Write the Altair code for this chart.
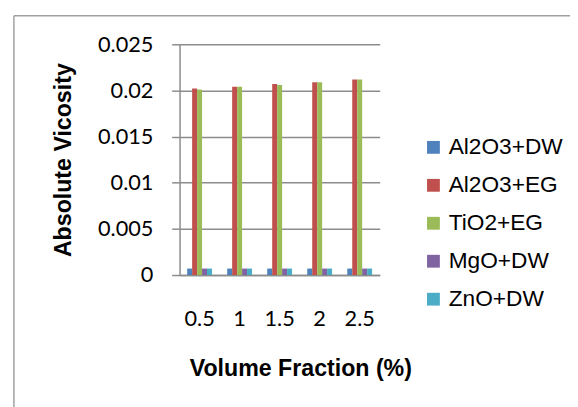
import altair as alt
import pandas as pd

categories = ["0.5", "1", "1.5", "2", "2.5"]
series_names = ["Al2O3+DW", "Al2O3+EG", "TiO2+EG", "MgO+DW", "ZnO+DW"]
colors = ["#4F81BD", "#C0504D", "#9BBB59", "#8064A2", "#4BACC6"]

al2o3_dw = [0.0007, 0.0007, 0.0007, 0.0007, 0.0007]
al2o3_eg = [0.0202, 0.0204, 0.0207, 0.0209, 0.0212]
tio2_eg = [0.0201, 0.0204, 0.0206, 0.0209, 0.0212]
mgo_dw = [0.0007, 0.0007, 0.0007, 0.0007, 0.0007]
zno_dw = [0.0007, 0.0007, 0.0007, 0.0007, 0.0007]

y_ticks = [0, 0.005, 0.01, 0.015, 0.02, 0.025]

values = [al2o3_dw, al2o3_eg, tio2_eg, mgo_dw, zno_dw]
rows = []
for name, vals in zip(series_names, values):
    for c, v in zip(categories, vals):
        rows.append({"fraction": c, "series": name, "value": v})
df = pd.DataFrame(rows)

GRAY = "#8c8c8c"

bars = alt.Chart(df).mark_bar().encode(
    x=alt.X(
        "fraction:N",
        sort=categories,
        scale=alt.Scale(paddingInner=0.38, paddingOuter=0.19),
        axis=alt.Axis(
            title="Volume Fraction (%)",
            labelAngle=0,
            ticks=False,
            tickSize=0,
            labelPadding=51,
            labelBaseline="alphabetic",
            labelFont="Lato",
            labelFontSize=22,
            labelColor="#000000",
            domainColor=GRAY,
            domainWidth=1.5,
            titleFont="Liberation Sans",
            titleFontSize=23.5,
            titleFontWeight="bold",
            titleColor="#000000",
            titleX=122.5,
            titleY=101.7,
            titleAlign="center",
            titleBaseline="alphabetic",
        ),
    ),
    xOffset=alt.XOffset("series:N", sort=series_names),
    y=alt.Y(
        "value:Q",
        scale=alt.Scale(domain=[0, 0.025], nice=False),
        axis=alt.Axis(
            title="Absolute Vicosity",
            values=y_ticks,
            format="~g",
            tickSize=8,
            tickColor=GRAY,
            tickWidth=1.5,
            labelPadding=19,
            labelFont="Lato",
            labelFontSize=22,
            labelColor="#000000",
            domainColor=GRAY,
            domainWidth=1.5,
            grid=True,
            gridColor=GRAY,
            gridWidth=1.5,
            titleFont="Liberation Sans",
            titleFontSize=23.5,
            titleFontWeight="bold",
            titleColor="#000000",
            titleAngle=270,
            titleX=-110.5,
            titleY=117,
            titleAlign="center",
            titleBaseline="alphabetic",
        ),
    ),
    color=alt.Color(
        "series:N",
        sort=series_names,
        scale=alt.Scale(domain=series_names, range=colors),
        legend=alt.Legend(
            title=None,
            orient="none",
            legendX=246,
            legendY=93,
            padding=0,
            symbolType="square",
            symbolSize=169,
            symbolStrokeWidth=0,
            symbolOpacity=1,
            labelFont="Liberation Sans",
            labelFontSize=23,
            labelColor="#000000",
            labelOffset=4,
            rowPadding=14.5,
        ),
    ),
)

frame_df = pd.DataFrame({"k": [0]})
frame_top = alt.Chart(frame_df).mark_rule(color="#a0a0a0", strokeWidth=1.5).encode(
    x=alt.value(-168), x2=alt.value(400), y=alt.value(-29)
)
frame_left = alt.Chart(frame_df).mark_rule(color="#a0a0a0", strokeWidth=1.5).encode(
    x=alt.value(-168), y=alt.value(-29), y2=alt.value(370)
)

chart = alt.layer(frame_top, frame_left, bars).properties(
    width=203,
    height=234,
    autosize=alt.AutoSizeParams(type="none"),
    padding={"left": 174, "top": 34, "right": 193, "bottom": 131},
    background="#ffffff",
).configure_view(strokeWidth=0)

chart.save("out.html", embed_options={"renderer": "svg", "actions": False})
